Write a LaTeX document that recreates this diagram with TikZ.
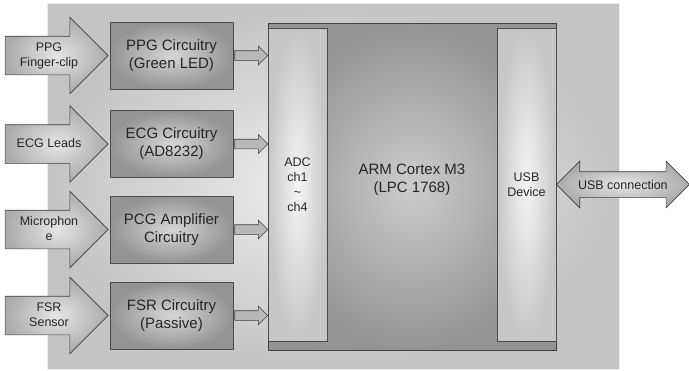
\documentclass[tikz,border=0pt]{standalone}
\usepackage{fontspec}
\setmainfont{Liberation Sans}
\usetikzlibrary{arrows.meta, positioning, calc, shapes.arrows}

\definecolor{panelin}{gray}{0.94}
\definecolor{panelout}{gray}{0.77}
\definecolor{boxin}{gray}{0.84}
\definecolor{boxout}{gray}{0.58}
\definecolor{sensorin}{gray}{0.90}
\definecolor{sensorout}{gray}{0.67}
\definecolor{cpuin}{gray}{0.80}
\definecolor{cpuout}{gray}{0.58}
\definecolor{colin}{gray}{0.96}
\definecolor{colout}{gray}{0.78}
\definecolor{linkfill}{gray}{0.72}

% text inside the big input arrows (shaft 38pt high, text pushed right)
\newcommand{\arrowtext}[1]{\rule[-16pt]{0pt}{38pt}\makebox[64pt][c]{\hspace*{4pt}\begin{tabular}{@{}c@{}}#1\end{tabular}}}

\begin{document}
\begin{tikzpicture}[
    x=1pt, y=-1pt,
    panel/.style={draw=white!85!gray, line width=0.6pt, inner color=panelin, outer color=panelout,
                minimum width=572pt, minimum height=366pt},
    circuit/.style={draw=black!70, line width=0.8pt, inner color=boxin, outer color=boxout,
                minimum width=123pt, minimum height=67pt, align=center, text=black!85,
                font=\fontsize{15}{18}\selectfont},
    sensor/.style={single arrow, draw=black!75, line width=0.6pt, inner color=sensorin,
                outer color=sensorout, minimum height=103pt, minimum width=76pt,
                single arrow head extend=19pt, inner sep=0pt, text=black!85,
                font=\fontsize{12.5}{15}\selectfont},
    link/.style={single arrow, draw=black!75, line width=0.6pt, fill=linkfill,
                minimum height=33pt, minimum width=18pt, single arrow head extend=4.5pt,
                inner xsep=0pt, inner ysep=4.5pt},
    cpu/.style={draw=black!75, line width=0.8pt, inner color=cpuin, outer color=cpuout,
                minimum width=288pt, minimum height=327pt},
    column/.style={draw=black!70, line width=0.8pt, inner color=colin, outer color=colout,
                minimum width=59pt, minimum height=313pt, align=center, text=black!85,
                font=\fontsize{12.5}{15}\selectfont},
    usblink/.style={double arrow, draw=black!75, line width=0.6pt, inner color=sensorin,
                outer color=sensorout, minimum height=133pt, minimum width=46pt,
                double arrow head extend=10.5pt, inner ysep=0pt, inner xsep=-1.5pt,
                text=black!85, font=\fontsize{12.5}{15}\selectfont}
]
\useasboundingbox (0,0) rectangle (689,370);

\node[panel] (board) at (333,186) {};

% signal conditioning boards
\node[circuit] (ppg) at (171.5, 55.5)  {PPG Circuitry\\(Green LED)};
\node[circuit] (ecg) at (171.5, 144)   {ECG Circuitry\\(AD8232)};
\node[circuit] (pcg) at (171.5, 229.5) {PCG Amplifier\\Circuitry};
\node[circuit] (fsr) at (171.5, 315.5) {FSR Circuitry\\(Passive)};

% sensors
\node[sensor, left=1pt of ppg] (ppgin) {\arrowtext{PPG\\Finger-clip}};
\node[sensor, left=1pt of ecg] (ecgin) {\arrowtext{ECG Leads}};
\node[sensor, left=1pt of pcg] (pcgin) {\arrowtext{Microphon\\e}};
\node[sensor, left=1pt of fsr] (fsrin) {\arrowtext{FSR\\Sensor}};

% microcontroller
\node[cpu] (arm) at (412,186.5) {};
\node[column, anchor=west] (adc) at ($(arm.west)+(0,-2)$) {ADC\\ch1\\\textasciitilde\\ch4};
\node[column, anchor=east] (usb) at ($(arm.east)+(0,-2)$) {USB\\Device};
\node[align=center, text=black!85, font=\fontsize{15}{18}\selectfont] (armname)
    at ($(arm.center)+(0,-7)$) {ARM Cortex M3\\(LPC 1768)};

% board -> ADC
\node[link, right=1pt of ppg] (ppglink) {};
\node[link, right=1pt of ecg] (ecglink) {};
\node[link, right=1pt of pcg] (pcglink) {};
\node[link, right=1pt of fsr] (fsrlink) {};

\node[usblink] (usbconn) at ($(usb.east)+(66.5,0)$) {\rule[-8pt]{0pt}{25pt}USB connection};
\end{tikzpicture}
\end{document}
